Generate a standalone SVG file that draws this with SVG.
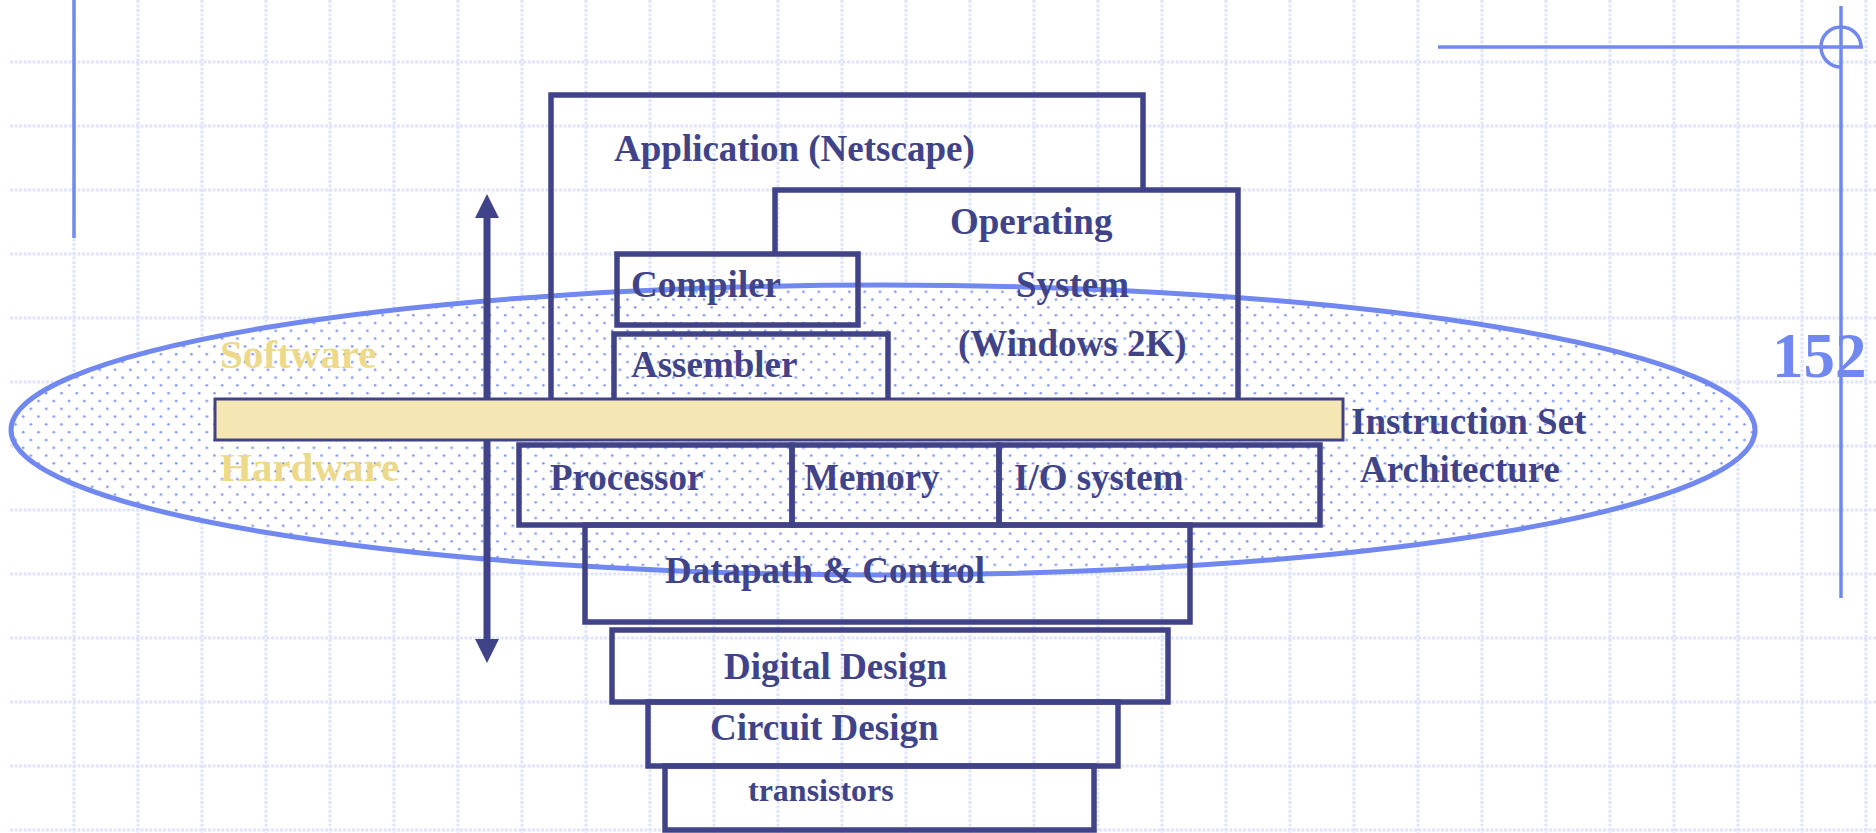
<svg xmlns="http://www.w3.org/2000/svg" width="1876" height="833" viewBox="0 0 1876 833">
<defs>
<style>
.grid{stroke:#DFE6FB;stroke-width:3;stroke-dasharray:3 1.5;fill:none}
.rule{stroke:#7088F0;stroke-width:3.5;fill:none}
.box{fill:none;stroke:#414388;stroke-width:5.5}
.lbl{font-family:"Liberation Serif","Times New Roman",serif;font-weight:bold;font-size:37px;fill:#414388}
.gold{font-family:"Liberation Serif","Times New Roman",serif;font-weight:bold;font-size:41px;fill:#EDD98A}
.conn{stroke:#414388;stroke-width:7;fill:none}
</style>
<pattern id="dots" patternUnits="userSpaceOnUse" width="15.3" height="15.6">
<rect width="15.3" height="15.6" fill="#FFFFFF"/>
<circle cx="7.9" cy="11" r="1.3" fill="#7D93F2"/>
<circle cx="0.25" cy="3.2" r="1.3" fill="#7D93F2"/>
<circle cx="15.55" cy="3.2" r="1.3" fill="#7D93F2"/>
</pattern>
<marker id="head" markerUnits="userSpaceOnUse" markerWidth="26" markerHeight="26" viewBox="0 0 26 26" refX="2" refY="13" orient="auto">
<path d="M0,1 L24,13 L0,25 Z" fill="#414388"/>
</marker>
</defs>
<rect width="1876" height="833" fill="#FFFFFF"/>
<g id="grid">
<path class="grid" d="M74,0V833M138,0V833M202,0V833M266,0V833M330,0V833M394,0V833M458,0V833M522,0V833M586,0V833M650,0V833M714,0V833M778,0V833M842,0V833M906,0V833M970,0V833M1034,0V833M1098,0V833M1162,0V833M1226,0V833M1290,0V833M1354,0V833M1418,0V833M1482,0V833M1546,0V833M1610,0V833M1674,0V833M1738,0V833M1802,0V833M1866,0V833"/>
<path class="grid" d="M10,62H1876M10,126H1876M10,190H1876M10,254H1876M10,318H1876M10,382H1876M10,446H1876M10,510H1876M10,574H1876M10,638H1876M10,702H1876M10,766H1876M10,830H1876"/>
</g>
<g id="frame">
<path class="rule" d="M74,0V238"/>
<path class="rule" d="M1438,47H1863"/>
<path class="rule" d="M1841,6V598"/>
<path class="rule" d="M1841,67 A20,20 0 0 1 1821,47 A20,20 0 0 1 1841,27 A20,20 0 0 1 1861,47"/>
<text x="1772" y="377" style="font-family:'Liberation Serif','Times New Roman',serif;font-weight:bold;font-size:63px;fill:#7088F0">152</text>
</g>
<g id="ellipse">
<ellipse cx="883" cy="430" rx="872" ry="145" fill="url(#dots)" stroke="#7088F0" stroke-width="5"/>
</g>
<g id="software-label"><text class="gold" x="220" y="368">Software</text></g>
<g id="hardware-label"><text class="gold" x="220" y="481">Hardware</text></g>
<g id="application">
<path class="box" d="M551,398V95H1143V190"/>
<text class="lbl" x="614" y="161">Application (Netscape)</text>
</g>
<g id="os">
<path class="box" d="M775,254V190H1238V398"/>
<text class="lbl" x="950" y="234">Operating</text>
<text class="lbl" x="1016" y="297">System</text>
<text class="lbl" x="958" y="356">(Windows 2K)</text>
</g>
<g id="compiler">
<rect class="box" x="617" y="254" width="241" height="71"/>
<text class="lbl" x="631" y="297">Compiler</text>
</g>
<g id="assembler">
<path class="box" d="M614,398V334H888V398"/>
<text class="lbl" x="631" y="377">Assembler</text>
</g>
<g id="isa">
<rect x="215" y="399" width="1128" height="41" fill="#F4E7B3" stroke="#414388" stroke-width="3"/>
<text class="lbl" x="1351" y="434">Instruction Set</text>
<text class="lbl" x="1360" y="482">Architecture</text>
</g>
<g id="datapath">
<rect class="box" x="585" y="525" width="605" height="97"/>
<text class="lbl" x="665" y="583">Datapath &amp; Control</text>
</g>
<g id="processor">
<rect class="box" x="519" y="445" width="273" height="80"/>
<text class="lbl" x="550" y="490">Processor</text>
</g>
<g id="memory">
<rect class="box" x="792" y="445" width="207" height="80"/>
<text class="lbl" x="804" y="490">Memory</text>
</g>
<g id="io">
<rect class="box" x="999" y="445" width="321" height="80"/>
<text class="lbl" x="1014" y="490">I/O system</text>
</g>
<g id="digital">
<rect class="box" x="612" y="630" width="556" height="72"/>
<text class="lbl" x="724" y="679">Digital Design</text>
</g>
<g id="circuit">
<rect class="box" x="648" y="702" width="470" height="64"/>
<text class="lbl" x="710" y="740">Circuit Design</text>
</g>
<g id="transistors">
<rect class="box" x="665" y="766" width="429" height="64"/>
<text class="lbl" x="748" y="801" style="font-size:32px">transistors</text>
</g>
<g id="connectors">
<path class="conn" d="M487,398V216" marker-end="url(#head)"/>
<path class="conn" d="M487,441V641" marker-end="url(#head)"/>
</g>
</svg>
